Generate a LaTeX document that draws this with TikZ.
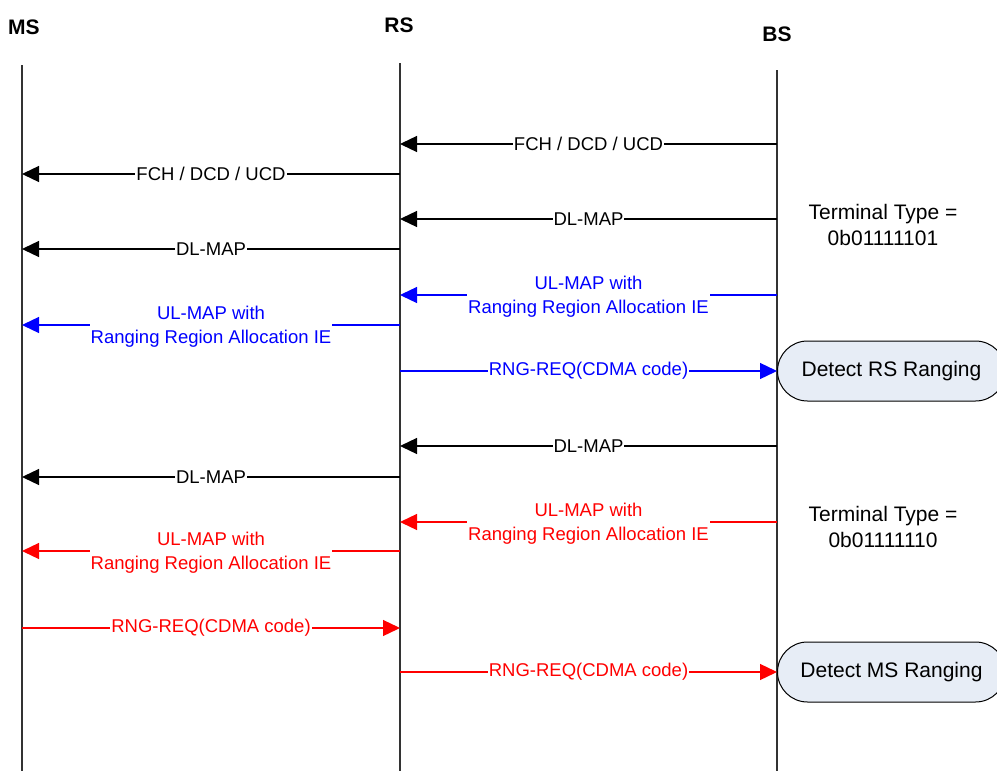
\documentclass[tikz,border=0pt]{standalone}
\usepackage{fontspec}
\setmainfont{Liberation Sans}
\usetikzlibrary{positioning, arrows.meta}
\definecolor{boxfill}{HTML}{E7EDF6}
\tikzset{
    msg/.style={-{Triangle[length=17pt,width=16pt]}, line width=1.3pt}, % message arrows
    lifeline/.style={line width=1.3pt, draw=black!80},
    lbl/.style={fill=white, inner sep=1pt, align=center, font=\fontsize{18.5}{24}\selectfont},
    head/.style={font=\fontsize{21}{24}\selectfont\bfseries},
    note/.style={align=center, font=\fontsize{21}{26}\selectfont},
    detect/.style={draw, line width=1pt, fill=boxfill, rounded corners=30pt, minimum height=60pt,
                   minimum width=228pt, anchor=west, font=\fontsize{21}{24}\selectfont},
}
\begin{document}
\begin{tikzpicture}[x=1pt, y=-1pt]
    \useasboundingbox (0,0) rectangle (997,771);
    \node[head] (MS) at (24,27) {MS};
    \node[head] (RS) at (399,25) {RS};
    \node[head] (BS) at (777,34) {BS};
    \coordinate (msTop) at (22,65);  \coordinate (msEnd) at (22,771);
    \coordinate (rsTop) at (400,63); \coordinate (rsEnd) at (400,771);
    \coordinate (bsTop) at (777,70); \coordinate (bsEnd) at (777,771);
    \draw[lifeline] (msTop) -- (msEnd);
    \draw[lifeline] (rsTop) -- (rsEnd);
    \draw[lifeline] (bsTop) -- (bsEnd);
    \foreach \i/\y in {1/144, 2/174, 3/219, 4/249, 5/295, 6/325, 7/371,
                       8/446, 9/477, 10/522, 11/551, 12/628, 13/672} {
        \coordinate (ms\i) at (22,\y);
        \coordinate (rs\i) at (400,\y);
        \coordinate (bs\i) at (777,\y);
    }
    \node[note] (tt1) at (883,225) {Terminal Type =\\0b01111101};
    \node[note] (tt2) at (883,527) {Terminal Type =\\0b01111110};
    \node[detect] (dRS) at (bs7) {Detect RS Ranging};
    \node[detect] (dMS) at (bs13) {Detect MS Ranging};
    \draw[msg] (bs1) -- node[lbl]{FCH / DCD / UCD} (rs1);
    \draw[msg] (rs2) -- node[lbl]{FCH / DCD / UCD} (ms2);
    \draw[msg] (bs3) -- node[lbl]{DL-MAP} (rs3);
    \draw[msg] (rs4) -- node[lbl]{DL-MAP} (ms4);
    \draw[msg, blue] (bs5) -- node[lbl, yshift=-1.5pt]{UL-MAP with\\Ranging Region Allocation IE} (rs5);
    \draw[msg, blue] (rs6) -- node[lbl, yshift=-1.5pt]{UL-MAP with\\Ranging Region Allocation IE} (ms6);
    \draw[msg, blue] (rs7) -- node[lbl]{RNG-REQ(CDMA code)} (dRS.west);
    \draw[msg] (bs8) -- node[lbl]{DL-MAP} (rs8);
    \draw[msg] (rs9) -- node[lbl]{DL-MAP} (ms9);
    \draw[msg, red] (bs10) -- node[lbl, yshift=-1.5pt]{UL-MAP with\\Ranging Region Allocation IE} (rs10);
    \draw[msg, red] (rs11) -- node[lbl, yshift=-1.5pt]{UL-MAP with\\Ranging Region Allocation IE} (ms11);
    \draw[msg, red] (ms12) -- node[lbl]{RNG-REQ(CDMA code)} (rs12);
    \draw[msg, red] (rs13) -- node[lbl]{RNG-REQ(CDMA code)} (dMS.west);
\end{tikzpicture}
\end{document}
